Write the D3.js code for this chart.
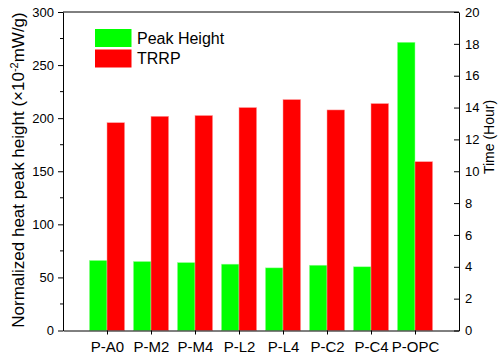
<!DOCTYPE html>
<html>
<head>
<meta charset="utf-8">
<script src="https://cdn.jsdelivr.net/npm/d3@7/dist/d3.min.js"></script>
<style>
  html, body { margin: 0; padding: 0; background: #fff; }
  svg { display: block; font-family: Arial, "Liberation Sans", sans-serif; }
</style>
</head>
<body>
<svg id="chart" width="503" height="361"></svg>
<script>
// Sample names along the x axis
const categories = ["P-A0", "P-M2", "P-M4", "P-L2", "P-L4", "P-C2", "P-C4", "P-OPC"];
// Normalized heat peak height (×10^-2 mW/g), left axis
const peakHeight = [66, 65, 64, 62.5, 59, 61.5, 60, 271.5];
// TRRP time (hour), right axis
const trrp = [13.05, 13.45, 13.5, 14.0, 14.5, 13.85, 14.25, 10.6];
// Tick values
const leftTicks = [0, 50, 100, 150, 200, 250, 300];
const leftMinorTicks = [25, 75, 125, 175, 225, 275];
const rightTicks = [0, 2, 4, 6, 8, 10, 12, 14, 16, 18, 20];

const svg = d3.select("#chart");
const plot = { left: 63, right: 459, top: 12, bottom: 330.5 };

// Categories sit at 1..8 on a 0..9 linear axis
const x = d3.scaleLinear().domain([0, categories.length + 1]).range([plot.left, plot.right]);
const yL = d3.scaleLinear().domain([0, 300]).range([plot.bottom, plot.top]);
const yR = d3.scaleLinear().domain([0, 20]).range([plot.bottom, plot.top]);
const barW = x(0.4) - x(0);

const green = "#00ff00", red = "#ff0000";

// Bars
svg.append("g").selectAll("rect").data(peakHeight).join("rect")
  .attr("x", (d, i) => x(i + 1) - barW)
  .attr("y", d => yL(d))
  .attr("width", barW)
  .attr("height", d => yL(0) - yL(d))
  .attr("fill", green)
  .attr("stroke", "#9fff9f").attr("stroke-width", 0.5);

svg.append("g").selectAll("rect").data(trrp).join("rect")
  .attr("x", (d, i) => x(i + 1))
  .attr("y", d => yR(d))
  .attr("width", barW)
  .attr("height", d => yR(0) - yR(d))
  .attr("fill", red)
  .attr("stroke", "#ff9f9f").attr("stroke-width", 0.5);

// Frame top line
svg.append("line")
  .attr("x1", plot.left).attr("x2", plot.right)
  .attr("y1", plot.top).attr("y2", plot.top)
  .attr("stroke", "#000").attr("stroke-width", 1);

// Left axis
const leftAxis = svg.append("g")
  .attr("transform", `translate(${plot.left},0)`)
  .call(d3.axisLeft(yL).tickValues(leftTicks).tickSize(5).tickPadding(4).tickSizeOuter(0));
svg.append("g").attr("transform", `translate(${plot.left},0)`)
  .selectAll("line").data(leftMinorTicks).join("line")
  .attr("x1", -3).attr("x2", 0)
  .attr("y1", d => yL(d)).attr("y2", d => yL(d))
  .attr("stroke", "#000");

// Right axis, ticks pointing inward
const rightAxis = svg.append("g")
  .attr("transform", `translate(${plot.right},0)`)
  .call(d3.axisRight(yR).tickValues(rightTicks).tickSizeInner(-5).tickSizeOuter(0).tickPadding(6));

// Bottom axis
const bottomAxis = svg.append("g")
  .attr("transform", `translate(0,${plot.bottom})`)
  .call(d3.axisBottom(x).tickValues(d3.range(1, categories.length + 1))
    .tickFormat(d => categories[d - 1]).tickSize(4).tickPadding(7).tickSizeOuter(0));

[leftAxis, rightAxis, bottomAxis].forEach(g => {
  g.select(".domain").attr("stroke", "#000").attr("stroke-width", 1);
  g.selectAll(".tick line").attr("stroke", "#000");
  g.selectAll("text").attr("fill", "#000").attr("font-family", "Arial, 'Liberation Sans', sans-serif");
});
leftAxis.selectAll("text").attr("font-size", 13);
rightAxis.selectAll("text").attr("font-size", 13);
bottomAxis.selectAll("text").attr("font-size", 15);

// Axis titles
const lt = svg.append("text")
  .attr("transform", "translate(24,170) rotate(-90)")
  .attr("text-anchor", "middle")
  .attr("font-size", 17)
  .attr("fill", "#000");
lt.append("tspan").text("Normalized heat peak height (×10");
lt.append("tspan").attr("dy", -6).attr("font-size", 11).text("-2");
lt.append("tspan").attr("dy", 6).text("mW/g)");

svg.append("text")
  .attr("transform", "translate(494,137) rotate(-90)")
  .attr("text-anchor", "middle")
  .attr("font-size", 14)
  .attr("fill", "#000")
  .text("Time (Hour)");

// Legend
const legendItems = [
  { label: "Peak Height", color: green },
  { label: "TRRP", color: red }
];
const lg = svg.append("g").attr("transform", "translate(95,29)");
const li = lg.selectAll("g").data(legendItems).join("g")
  .attr("transform", (d, i) => `translate(0,${i * 20.5})`);
li.append("rect").attr("width", 36.5).attr("height", 18).attr("fill", d => d.color);
li.append("text").attr("x", 42).attr("y", 14.5).attr("font-size", 16).attr("fill", "#000").text(d => d.label);
</script>
</body>
</html>
